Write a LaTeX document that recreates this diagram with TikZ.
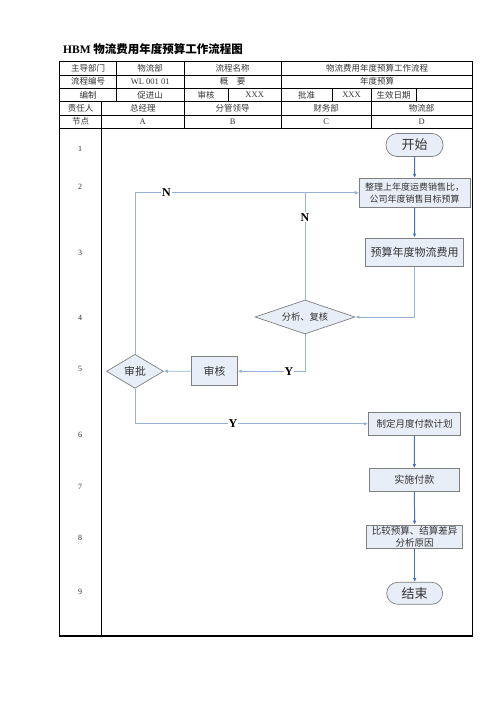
\documentclass[tikz,border=0pt]{standalone}
\usepackage{fontspec}
\setmainfont{Noto Sans CJK SC}
\newfontfamily\latino{Liberation Serif}
\usepackage{tikz}
\usetikzlibrary{shapes.geometric,
                    arrows.meta,
                    calc}
\definecolor{azul}{HTML}{4472C4}
\definecolor{azulclaro}{HTML}{95B3D7}
\definecolor{fundo}{HTML}{E8EEF7}
\definecolor{borda}{HTML}{7F7F7F}
\definecolor{texto}{HTML}{333333}
\tikzset{
tabela/.style={line width=0.7pt},
moldura/.style={line width=1.2pt}
                }
\tikzset{
celula/.style = {inner sep=0pt, text=texto, font=\fontsize{8.5}{10}\selectfont},
numero/.style = {inner sep=0pt, text=texto, font=\latino\fontsize{8}{9}\selectfont}
         }
\tikzset{
caixa/.style = {draw=borda, fill=fundo, line width=0.7pt, inner sep=0pt, text=texto, align=center},
terminal/.style = {caixa, rounded corners=11pt},
decisao/.style = {caixa, diamond, aspect=3},
fluxo/.style = {azul, line width=1pt, -{Latex[length=4pt,width=3.5pt]}},
retorno/.style = {azulclaro, line width=0.8pt, -{Latex[length=4pt,width=3.5pt]}},
rotulo/.style = {fill=white, inner sep=1pt, text=black, font=\latino\bfseries\fontsize{12}{12}\selectfont}
         }

\begin{document}
\begin{tikzpicture}[x=1pt,y=-1pt]
        \useasboundingbox (0,0) rectangle (496,702);

        % titulo
        \node[anchor=west, inner sep=0pt, font=\bfseries\fontsize{11.5}{12}\selectfont] (titulo) at (63,49)
            {{\latino HBM} 物流费用年度预算工作流程图};

        % tabela
        \draw[moldura] (59.5,61.5) rectangle (472.5,636);
        \draw[tabela] (59.5,75) -- (472.5,75);
        \draw[tabela] (59.5,88.3) -- (472.5,88.3);
        \draw[tabela] (59.5,101.7) -- (472.5,101.7);
        \draw[tabela] (59.5,115) -- (472.5,115);
        \draw[tabela] (59.5,128.3) -- (472.5,128.3);

        \draw[tabela] (116.5,61.5) -- (116.5,101.7);
        \draw[tabela] (184,61.5) -- (184,128.3);
        \draw[tabela] (281.5,61.5) -- (281.5,128.3);
        \draw[tabela] (228,88.3) -- (228,101.7);
        \draw[tabela] (332,88.3) -- (332,101.7);
        \draw[tabela] (371,88.3) -- (371,128.3);
        \draw[tabela] (416,88.3) -- (416,101.7);
        \draw[tabela] (101.7,101.7) -- (101.7,128.3);
        \draw[moldura] (101.7,128.3) -- (101.7,636);

        \node[celula] (dep) at (88,68.2) {主导部门};
        \node[celula] (depv) at (150.2,68.2) {物流部};
        \node[celula] (nome) at (232.7,68.2) {流程名称};
        \node[celula] (nomev) at (377,68.2) {物流费用年度预算工作流程};

        \node[celula] (cod) at (88,81.6) {流程编号};
        \node[celula, font=\latino\fontsize{8.5}{10}\selectfont] (codv) at (150.2,81.6) {WL 001 01};
        \node[celula] (resumo) at (232.7,81.6) {概\quad 要};
        \node[celula] (resumov) at (377,81.6) {年度预算};

        \node[celula] (ed) at (88,95) {编制};
        \node[celula] (edv) at (150.2,95) {促进山};
        \node[celula] (rev) at (206,95) {审核};
        \node[celula, font=\latino\fontsize{8.5}{10}\selectfont] (revv) at (254.7,95) {XXX};
        \node[celula] (apr) at (306.7,95) {批准};
        \node[celula, font=\latino\fontsize{8.5}{10}\selectfont] (aprv) at (351.5,95) {XXX};
        \node[celula] (data) at (393.5,95) {生效日期};

        \node[celula] (resp) at (80.6,108.3) {责任人};
        \node[celula] (respa) at (142.8,108.3) {总经理};
        \node[celula] (respb) at (232.7,108.3) {分管领导};
        \node[celula] (respc) at (326.2,108.3) {财务部};
        \node[celula] (respd) at (421.7,108.3) {物流部};

        \node[celula] (no) at (80.6,121.6) {节点};
        \node[celula, font=\latino\fontsize{8.5}{10}\selectfont] (noa) at (142.8,121.6) {A};
        \node[celula, font=\latino\fontsize{8.5}{10}\selectfont] (nob) at (232.7,121.6) {B};
        \node[celula, font=\latino\fontsize{8.5}{10}\selectfont] (noc) at (326.2,121.6) {C};
        \node[celula, font=\latino\fontsize{8.5}{10}\selectfont] (nod) at (421.7,121.6) {D};

        % etapas
        \node[numero] (n1) at (80,149) {1};
        \node[numero] (n2) at (80,187.3) {2};
        \node[numero] (n3) at (80,252.7) {3};
        \node[numero] (n4) at (80,318) {4};
        \node[numero] (n5) at (80,369) {5};
        \node[numero] (n6) at (80,435) {6};
        \node[numero] (n7) at (80,486.7) {7};
        \node[numero] (n8) at (80,538.3) {8};
        \node[numero] (n9) at (80,591.7) {9};

        % fluxograma
        \node[terminal, minimum width=57pt, minimum height=23pt, font=\fontsize{13}{13}\selectfont] (inicio) at (414.5,145) {开始};
        \node[caixa, minimum width=111pt, minimum height=29pt, font=\fontsize{9}{12}\selectfont] (dados) at (414.7,192.8)
            {整理上年度运费销售比，\\公司年度销售目标预算};
        \node[caixa, minimum width=97.6pt, minimum height=28.3pt, font=\fontsize{11}{12}\selectfont] (orcamento) at (414.5,252) {预算年度物流费用};
        \node[decisao, minimum width=100pt, minimum height=34pt, font=\fontsize{9.3}{10}\selectfont] (analise) at (305,317) {分析、复核};
        \node[caixa, minimum width=45.6pt, minimum height=29pt, font=\fontsize{10.8}{11}\selectfont] (revisao) at (214.5,371.2) {审核};
        \node[decisao, minimum width=57pt, minimum height=34pt, font=\fontsize{10.8}{11}\selectfont] (aprova) at (135,371.3) {审批};
        \node[caixa, minimum width=92pt, minimum height=23pt, font=\fontsize{9.5}{10}\selectfont] (plano) at (414.5,423.8) {制定月度付款计划};
        \node[caixa, minimum width=90pt, minimum height=23pt, font=\fontsize{10}{10}\selectfont] (pagamento) at (414.3,480) {实施付款};
        \node[caixa, minimum width=96pt, minimum height=23.3pt, font=\fontsize{9.5}{11.5}\selectfont] (compara) at (414.7,536.7)
            {比较预算、结算差异\\分析原因};
        \node[terminal, minimum width=56pt, minimum height=22pt, font=\fontsize{13}{13}\selectfont] (fim) at (414.7,593.3) {结束};

        % ligacoes
        \draw[fluxo] (inicio) -- (dados);
        \draw[fluxo] (dados) -- (orcamento);
        \draw[retorno] (orcamento.south) |- (analise.east);
        \draw[retorno] (analise.north) |- (dados.west) node[pos=0.385, rotulo] {N};
        \draw[retorno] (analise.south) |- (revisao.east) node[pos=0.62, rotulo] {Y};
        \draw[retorno] (revisao) -- (aprova);
        \draw[retorno] (aprova.north) |- (dados.west) node[pos=0.57, rotulo] {N};
        \draw[retorno] (aprova.south) |- (plano.west) node[pos=0.71, rotulo] {Y};
        \draw[fluxo] (plano) -- (pagamento);
        \draw[fluxo] (pagamento) -- (compara);
        \draw[fluxo] (compara) -- (fim);
    \end{tikzpicture}
\end{document}
